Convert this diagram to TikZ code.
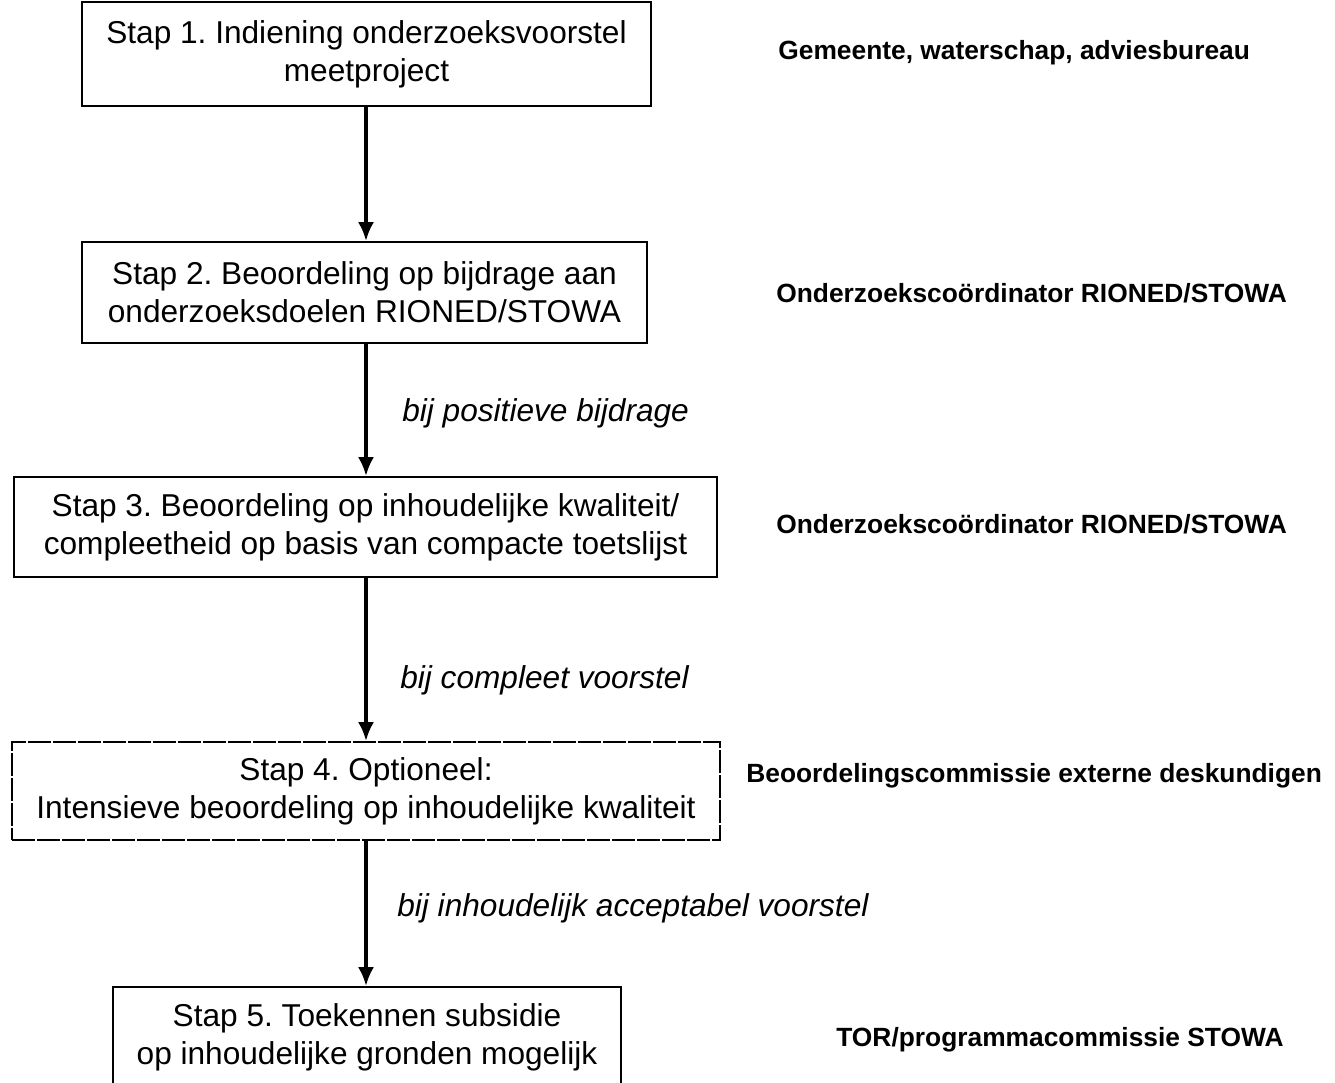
\documentclass[tikz,border=0pt]{standalone}
\usepackage{fontspec}
\setmainfont{Liberation Sans}
\frenchspacing
\usetikzlibrary{arrows.meta}
\tikzset{
    stap/.style={rectangle,draw,line width=0.9pt,align=center,inner sep=0pt,
        font=\fontsize{18}{21.5}\selectfont},
    optstap/.style={stap,dash pattern=on 0.46cm off 0.04cm},
    flow/.style={-{Latex[length=0.38cm,width=0.32cm]},line width=2.2pt,draw=black},
    cond/.style={anchor=west,inner sep=0pt,font=\fontsize{18}{21.5}\selectfont\itshape},
    actor/.style={anchor=west,inner sep=0pt,font=\fontsize{15}{18}\selectfont\bfseries},
}

\begin{document}
\begin{tikzpicture}[x=0.02cm,y=-0.02cm]
    \clip (0,0) rectangle (1335,1082);
    \useasboundingbox (0,0) rectangle (1335,1082);
    \node[stap,minimum width=11.38cm,minimum height=2.08cm] (s1) at (366.5,54) {Stap 1. Indiening onderzoeksvoorstel\\meetproject};
    \node[stap,minimum width=11.3cm,minimum height=2.02cm] (s2) at (364.5,292.5) {Stap 2. Beoordeling op bijdrage aan\\onderzoeksdoelen RIONED/STOWA};
    \node[stap,minimum width=14.06cm,minimum height=2.0cm] (s3) at (365.5,527) {Stap 3. Beoordeling op inhoudelijke kwaliteit/\\compleetheid op basis van compacte toetslijst};
    \node[optstap,minimum width=14.16cm,minimum height=1.96cm] (s4) at (366,791) {Stap 4. Optioneel:\\Intensieve beoordeling op inhoudelijke kwaliteit};
    \node[stap,minimum width=10.16cm,minimum height=2.0cm] (s5) at (367,1037) {Stap 5. Toekennen subsidie\\op inhoudelijke gronden mogelijk};
    \draw[flow] (s1.south -| 366,0) -- (s2.north -| 366,0);
    \draw[flow] (s2.south -| 366,0) -- (s3.north -| 366,0);
    \draw[flow] (s3.south -| 366,0) -- (s4.north -| 366,0);
    \draw[flow] (s4.south -| 366,0) -- (s5.north -| 366,0);
    \node[cond] (c2) at (402,413) {bij positieve bijdrage};
    \node[cond] (c3) at (400,680) {bij compleet voorstel};
    \node[cond] (c4) at (397,908) {bij inhoudelijk acceptabel voorstel};
    \node[actor] (a1) at (778,53) {Gemeente, waterschap, adviesbureau};
    \node[actor] (a2) at (776,293) {Onderzoekscoördinator RIONED/STOWA};
    \node[actor] (a3) at (776,524) {Onderzoekscoördinator RIONED/STOWA};
    \node[actor] (a4) at (746,776) {Beoordelingscommissie externe deskundigen};
    \node[actor] (a5) at (836,1040) {TOR/programmacommissie STOWA};
\end{tikzpicture}
\end{document}
